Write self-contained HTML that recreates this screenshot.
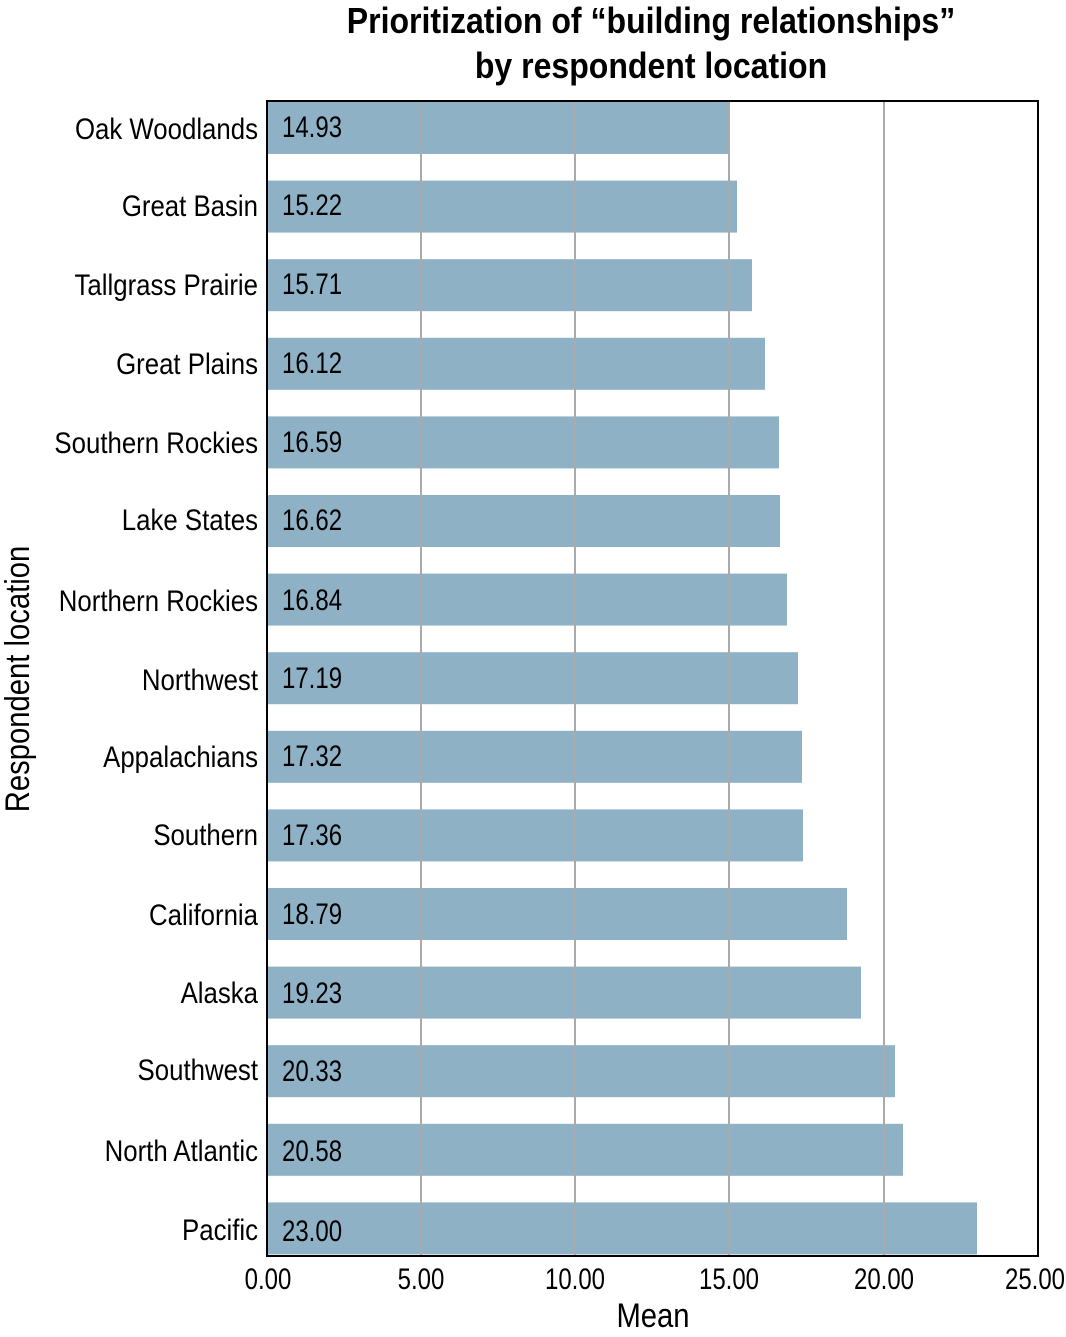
<!DOCTYPE html>
<html><head><meta charset="utf-8"><style>
html,body{margin:0;padding:0;background:#fff;}
svg{display:block;font-family:"Liberation Sans Narrow","Liberation Sans",sans-serif;}
</style></head><body>
<svg width="1066" height="1337" viewBox="0 0 1066 1337" xmlns="http://www.w3.org/2000/svg">
<g transform="translate(651,0) scale(0.89,1)" font-size="36" font-weight="bold" fill="#000" text-anchor="middle">
<text x="0" y="33">Prioritization of “building relationships”</text>
<text x="0" y="78">by respondent location</text>
</g>
<g fill="#8fb1c6">
<rect x="268" y="102" width="460" height="52"/>
<rect x="268" y="180.6" width="469" height="52"/>
<rect x="268" y="259.2" width="484" height="52"/>
<rect x="268" y="337.8" width="497" height="52"/>
<rect x="268" y="416.4" width="511" height="52"/>
<rect x="268" y="495" width="512" height="52"/>
<rect x="268" y="573.6" width="519" height="52"/>
<rect x="268" y="652.2" width="530" height="52"/>
<rect x="268" y="730.8" width="534" height="52"/>
<rect x="268" y="809.4" width="535" height="52"/>
<rect x="268" y="888" width="579" height="52"/>
<rect x="268" y="966.6" width="593" height="52"/>
<rect x="268" y="1045.2" width="627" height="52"/>
<rect x="268" y="1123.8" width="635" height="52"/>
<rect x="268" y="1202.4" width="709" height="52"/>
</g>
<g stroke="#aaa" stroke-width="2">
<line x1="421" y1="102" x2="421" y2="1256"/>
<line x1="575" y1="102" x2="575" y2="1256"/>
<line x1="729" y1="102" x2="729" y2="1256"/>
<line x1="884" y1="102" x2="884" y2="1256"/>
</g>
<rect x="267" y="101" width="771" height="1155" fill="none" stroke="#000" stroke-width="2"/>
<g font-size="30" fill="#000">
<g text-anchor="end" transform="translate(258,0) scale(0.86,1)">
<text x="0" y="139">Oak Woodlands</text>
<text x="0" y="216">Great Basin</text>
<text x="0" y="295">Tallgrass Prairie</text>
<text x="0" y="374">Great Plains</text>
<text x="0" y="453">Southern Rockies</text>
<text x="0" y="530">Lake States</text>
<text x="0" y="611">Northern Rockies</text>
<text x="0" y="690">Northwest</text>
<text x="0" y="767">Appalachians</text>
<text x="0" y="845">Southern</text>
<text x="0" y="925">California</text>
<text x="0" y="1003">Alaska</text>
<text x="0" y="1080">Southwest</text>
<text x="0" y="1161">North Atlantic</text>
<text x="0" y="1240">Pacific</text>
</g>
<g transform="translate(282,0) scale(0.8,1)">
<text x="0" y="137">14.93</text>
<text x="0" y="215">15.22</text>
<text x="0" y="294">15.71</text>
<text x="0" y="373">16.12</text>
<text x="0" y="452">16.59</text>
<text x="0" y="530">16.62</text>
<text x="0" y="610">16.84</text>
<text x="0" y="688">17.19</text>
<text x="0" y="766">17.32</text>
<text x="0" y="845">17.36</text>
<text x="0" y="924">18.79</text>
<text x="0" y="1003">19.23</text>
<text x="0" y="1081">20.33</text>
<text x="0" y="1161">20.58</text>
<text x="0" y="1241">23.00</text>
</g>
<g text-anchor="middle">
<text transform="translate(268,1289) scale(0.8,1)">0.00</text>
<text transform="translate(421,1289) scale(0.8,1)">5.00</text>
<text transform="translate(575,1289) scale(0.8,1)">10.00</text>
<text transform="translate(729,1289) scale(0.8,1)">15.00</text>
<text transform="translate(884,1289) scale(0.8,1)">20.00</text>
<text transform="translate(1035,1289) scale(0.8,1)">25.00</text>
</g>
<text transform="translate(653,1327) scale(0.86,1)" text-anchor="middle" font-size="34">Mean</text>
<text transform="translate(29,679) rotate(-90) scale(0.86,1)" text-anchor="middle" font-size="34">Respondent location</text>
</g>
</svg>
</body></html>
